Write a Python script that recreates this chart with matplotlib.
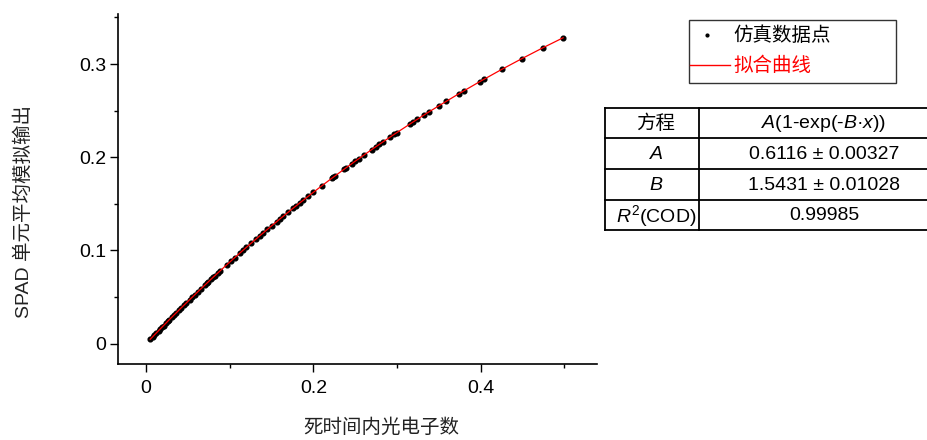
import matplotlib
matplotlib.use('Agg')
import matplotlib.pyplot as plt
from matplotlib.patches import Rectangle

plt.rcParams['font.family'] = ['Liberation Sans', 'Noto Sans CJK SC']
plt.rcParams['mathtext.fontset'] = 'custom'
plt.rcParams['mathtext.rm'] = 'Liberation Sans'
plt.rcParams['mathtext.it'] = 'Liberation Sans:italic'

# simulated points
sim_x = [0.005, 0.008, 0.010, 0.012, 0.015, 0.017, 0.019, 0.021, 0.024, 0.026,
         0.028, 0.031, 0.034, 0.036, 0.039, 0.042, 0.045, 0.048, 0.052, 0.055,
         0.058, 0.062, 0.066, 0.070, 0.0725, 0.074, 0.078, 0.0804, 0.082, 0.086,
         0.0884, 0.0964, 0.101, 0.106, 0.112, 0.116, 0.120, 0.126, 0.131, 0.136,
         0.140, 0.145, 0.150, 0.156, 0.160, 0.164, 0.170, 0.176, 0.179, 0.184,
         0.188, 0.194, 0.200, 0.210, 0.2218, 0.224, 0.2258, 0.2369, 0.2389, 0.2458,
         0.2497, 0.2545, 0.2605, 0.2697, 0.2748, 0.2788, 0.2835, 0.2915, 0.2967, 0.2995,
         0.315, 0.319, 0.324, 0.332, 0.338, 0.350, 0.359, 0.374, 0.380, 0.399,
         0.404, 0.425, 0.449, 0.474, 0.4985]
sim_y = [0.0047, 0.0075, 0.0094, 0.0112, 0.0140, 0.0158, 0.0177, 0.0195, 0.0222, 0.0241,
         0.0259, 0.0286, 0.0313, 0.0330, 0.0357, 0.0384, 0.0410, 0.0436, 0.0471, 0.0497,
         0.0523, 0.0558, 0.0592, 0.0626, 0.0647, 0.0660, 0.0694, 0.0714, 0.0727, 0.0760,
         0.0780, 0.0846, 0.0883, 0.0923, 0.0971, 0.1003, 0.1034, 0.1081, 0.1119, 0.1158,
         0.1188, 0.1226, 0.1264, 0.1308, 0.1338, 0.1367, 0.1411, 0.1455, 0.1476, 0.1512,
         0.1540, 0.1582, 0.1624, 0.1693, 0.1773, 0.1787, 0.1799, 0.1873, 0.1886, 0.1930,
         0.1956, 0.1986, 0.2024, 0.2082, 0.2114, 0.2138, 0.2167, 0.2215, 0.2247, 0.2263,
         0.2354, 0.2378, 0.2406, 0.2452, 0.2486, 0.2552, 0.2601, 0.2682, 0.2713, 0.2812,
         0.2837, 0.2942, 0.3057, 0.3173, 0.3282]

x_ticks = [0, 0.2, 0.4]
x_tick_labels = ['0', '0.2', '0.4']
y_ticks = [0, 0.1, 0.2, 0.3]
y_tick_labels = ['0', '0.1', '0.2', '0.3']

legend_labels = ['仿真数据点', '拟合曲线']
table_rows = [
    ('方程', r'$\mathit{A}$(1-exp(-$\mathit{B}$·$\mathit{x}$))'),
    (r'$\mathit{A}$', '0.6116 ± 0.00327'),
    (r'$\mathit{B}$', '1.5431 ± 0.01028'),
    (r'$\mathit{R}^2$(COD)', '0.99985'),
]

W, H = 928, 440
fig = plt.figure(figsize=(W / 100, H / 100), dpi=100)
ax = fig.add_axes([118 / W, 1 - 364 / H, (597 - 118) / W, (364 - 14) / H])

ax.plot(sim_x, sim_y, 'o', color='black', ms=3.4, zorder=2)
ax.plot(sim_x, sim_y, '-', color='red', lw=0.9, zorder=3)

ax.set_xlim(-0.0335, 0.539)
ax.set_ylim(-0.0218, 0.3537)
ax.set_xticks(x_ticks)
ax.set_xticklabels(x_tick_labels)
ax.set_xticks([0.1, 0.3, 0.5], minor=True)
ax.set_yticks(y_ticks)
ax.set_yticklabels(y_tick_labels)
ax.set_yticks([0.05, 0.15, 0.25, 0.35], minor=True)
ax.spines['top'].set_visible(False)
ax.spines['right'].set_visible(False)
for s in ('left', 'bottom'):
    ax.spines[s].set_linewidth(1.2)
ax.tick_params(which='major', length=5.5, width=1.0, labelsize=14)
ax.tick_params(which='minor', length=3, width=1.0)
ax.tick_params(axis='x', which='major', pad=6)
ax.tick_params(axis='y', which='major', pad=3)

fig.text(381 / W, 1 - 428 / H, '死时间内光电子数', ha='center', va='center',
         fontsize=14, color='#222222')
fig.text(24 / W, 1 - 212 / H, 'SPAD 单元平均模拟输出', ha='center', va='center',
         rotation=90, fontsize=14, color='#222222')

# overlay in pixel coordinates for legend and table
ov = fig.add_axes([0, 0, 1, 1])
ov.set_xlim(0, W)
ov.set_ylim(H, 0)
ov.axis('off')

ov.add_patch(Rectangle((689, 20), 207, 63, fill=False, lw=1.0, edgecolor='#333333'))
ov.plot([707], [35], 'o', color='black', ms=2)
ov.text(733, 36, legend_labels[0], ha='left', va='center', fontsize=14, color='black')
ov.plot([690, 730], [65, 65], color='red', lw=1.0)
ov.text(733, 66, legend_labels[1], ha='left', va='center', fontsize=14, color='red')

row_lines = [107.7, 138.3, 169.3, 200, 230]
for yy in row_lines:
    ov.plot([605, W], [yy, yy], color='black', lw=1.3)
ov.plot([605, 605], [row_lines[0], row_lines[-1]], color='black', lw=1.3)
ov.plot([699, 699], [row_lines[0], row_lines[-1]], color='black', lw=1.3)
for i, (c1, c2) in enumerate(table_rows):
    yc = (row_lines[i] + row_lines[i + 1]) / 2 + 1
    ov.text(656, yc, c1, ha='center', va='center', fontsize=14)
    ov.text(824, yc, c2, ha='center', va='center', fontsize=14)

fig.savefig('out.png', dpi=100)
